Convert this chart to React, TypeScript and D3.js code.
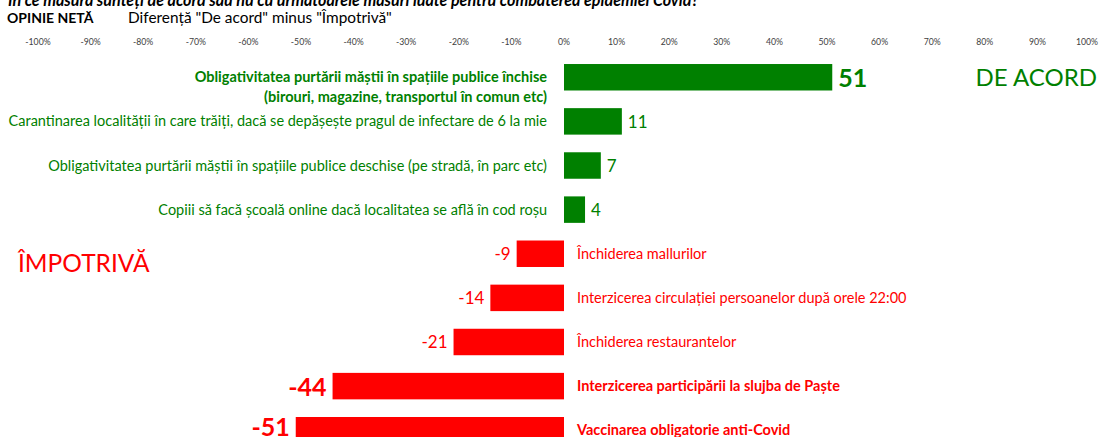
import React from "react";
import * as d3 from "d3";

const W = 1099;
const H = 437;

const titleText = "În ce măsură sunteți de acord sau nu cu următoarele măsuri luate pentru combaterea epidemiei Covid?";
const subLabel = "OPINIE NETĂ";
const subText = 'Diferență "De acord" minus "Împotrivă"';
const agreeLabel = "DE ACORD";
const againstLabel = "ÎMPOTRIVĂ";

const categories = [
  "Obligativitatea purtării măștii în spațiile publice închise\n(birouri, magazine, transportul în comun etc)",
  "Carantinarea localității în care trăiți, dacă se depășește pragul de infectare de 6 la mie",
  "Obligativitatea purtării măștii în spațiile publice deschise (pe stradă, în parc etc)",
  "Copiii să facă școală online dacă localitatea se află în cod roșu",
  "Închiderea mallurilor",
  "Interzicerea circulației persoanelor după orele 22:00",
  "Închiderea restaurantelor",
  "Interzicerea participării la slujba de Paște",
  "Vaccinarea obligatorie anti-Covid",
];
const netValues = [51, 11, 7, 4, -9, -14, -21, -44, -51];
const tickValues = d3.range(-100, 101, 10);

const GREEN = "#008000";
const RED = "#FF0000";
const FONT = "Lato, 'Noto Sans', sans-serif";

export default function App() {
  const x = d3.scaleLinear().domain([-100, 100]).range([38, 1090]);
  const y = d3
    .scaleBand<number>()
    .domain(d3.range(categories.length))
    .range([55.2, 452.3])
    .paddingInner(0.4)
    .paddingOuter(0.2);
  const bw = y.bandwidth();
  const x0 = x(0);
  const emphasized = (v: number) => Math.abs(v) >= 40;

  return (
    <svg
      width={W}
      height={H}
      style={{ position: "absolute", left: 0, top: 0, background: "#fff" }}
      fontFamily={FONT}
    >
      <rect width={W} height={H} fill="#fff" />
      <text x={8} y={6} fontSize={16.1} fontWeight="bold" fontStyle="italic" fill="#000">
        {titleText}
      </text>
      <text x={7} y={23} fontSize={14} fontWeight="bold" fill="#000">
        {subLabel}
      </text>
      <text x={128} y={23} fontSize={15.4} fill="#000">
        {subText}
      </text>
      {tickValues.map((t) => {
        const tx = x(t);
        const atEdge = tx + 11 > W;
        return (
          <text
            key={t}
            x={atEdge ? W - 1 : tx}
            y={45}
            fontSize={8.7}
            textAnchor={atEdge ? "end" : "middle"}
            fill="#404040"
          >
            {`${t}%`}
          </text>
        );
      })}
      {netValues.map((v, i) => {
        const top = y(i) as number;
        const cy = top + bw / 2;
        const pos = v >= 0;
        const color = pos ? GREEN : RED;
        const em = emphasized(v);
        const lines = categories[i].split("\n");
        const bx = pos ? x0 : x(v);
        const bwid = Math.abs(x(v) - x0);
        const valBase = Math.min(cy + (em ? 10 : 6.5), H - 1);
        return (
          <g key={i}>
            <rect x={bx} y={top} width={bwid} height={bw} fill={color} />
            <text
              x={pos ? x(v) + 6 : x(v) - 6}
              y={valBase}
              fontSize={em ? 25 : 17}
              fontWeight={em ? "bold" : "normal"}
              textAnchor={pos ? "start" : "end"}
              fill={color}
            >
              {v}
            </text>
            {lines.map((ln, j) => (
              <text
                key={j}
                x={pos ? 547 : 577}
                y={cy + 5 + j * 19.5}
                fontSize={14.5}
                fontWeight={em ? "bold" : "normal"}
                textAnchor={pos ? "end" : "start"}
                fill={color}
              >
                {ln}
              </text>
            ))}
          </g>
        );
      })}
      <text x={1097} y={86} fontSize={24} textAnchor="end" fill={GREEN}>
        {agreeLabel}
      </text>
      <text x={18} y={272} fontSize={24.5} fill={RED}>
        {againstLabel}
      </text>
    </svg>
  );
}
